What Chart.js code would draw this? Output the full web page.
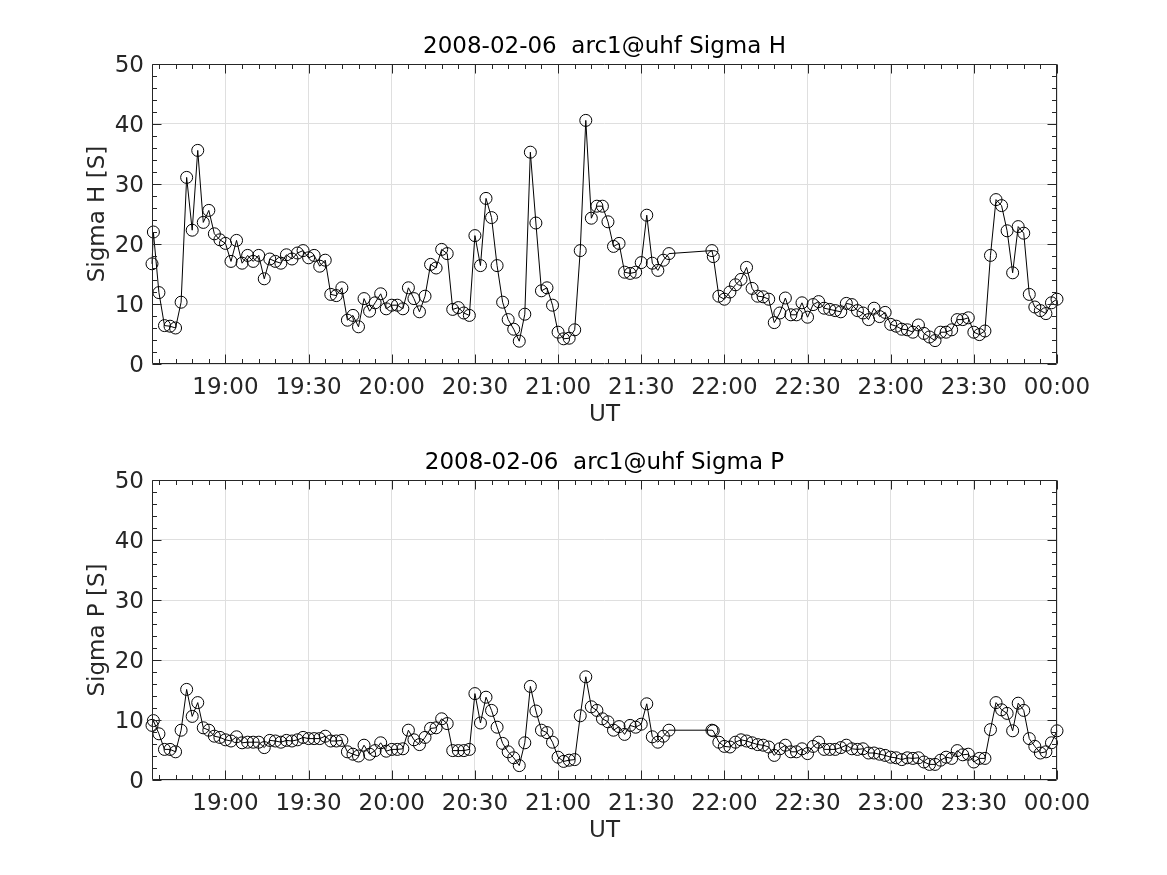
<!DOCTYPE html>
<html>
<head>
<meta charset="utf-8">
<script src="https://cdn.jsdelivr.net/npm/chart.js@4.4.1/dist/chart.umd.min.js"></script>
<style>
  html, body { margin: 0; padding: 0; background: #fff; }
  #wrap { position: relative; width: 1167px; height: 875px; }
  canvas { position: absolute; left: 0; }
</style>
</head>
<body>
<div id="wrap">
  <canvas id="chartH" width="1167" height="437" style="top:0"></canvas>
  <canvas id="chartP" width="1167" height="438" style="top:437px"></canvas>
</div>
<script>
// sample times (UT), 2 min steps, gap 21:40 - 21:55
const times = [
  '18:33:30', '18:34', '18:36', '18:38', '18:40', '18:42', '18:44', '18:46', '18:48', '18:50', '18:52', '18:54', '18:56', '18:58',
  '19:00', '19:02', '19:04', '19:06', '19:08', '19:10', '19:12', '19:14', '19:16', '19:18', '19:20', '19:22', '19:24', '19:26', '19:28',
  '19:30', '19:32', '19:34', '19:36', '19:38', '19:40', '19:42', '19:44', '19:46', '19:48', '19:50', '19:52', '19:54', '19:56', '19:58',
  '20:00', '20:02', '20:04', '20:06', '20:08', '20:10', '20:12', '20:14', '20:16', '20:18', '20:20', '20:22', '20:24', '20:26', '20:28',
  '20:30', '20:32', '20:34', '20:36', '20:38', '20:40', '20:42', '20:44', '20:46', '20:48', '20:50', '20:52', '20:54', '20:56', '20:58',
  '21:00', '21:02', '21:04', '21:06', '21:08', '21:10', '21:12', '21:14', '21:16', '21:18', '21:20', '21:22', '21:24', '21:26', '21:28',
  '21:30', '21:32', '21:34', '21:36', '21:38', '21:40',
  '21:55:30', '21:56', '21:58',
  '22:00', '22:02', '22:04', '22:06', '22:08', '22:10', '22:12', '22:14', '22:16', '22:18', '22:20', '22:22', '22:24', '22:26', '22:28',
  '22:30', '22:32', '22:34', '22:36', '22:38', '22:40', '22:42', '22:44', '22:46', '22:48', '22:50', '22:52', '22:54', '22:56', '22:58',
  '23:00', '23:02', '23:04', '23:06', '23:08', '23:10', '23:12', '23:14', '23:16', '23:18', '23:20', '23:22', '23:24', '23:26', '23:28',
  '23:30', '23:32', '23:34', '23:36', '23:38', '23:40', '23:42', '23:44', '23:46', '23:48', '23:50', '23:52', '23:54', '23:56', '23:58',
  '00:00'
];

const sigmaH = [
  16.7, 22.0, 11.9, 6.4, 6.3, 6.0, 10.3, 31.1, 22.3, 35.6, 23.6, 25.6, 21.7, 20.7,
  20.1, 17.1, 20.6, 16.8, 18.1, 17.1, 18.1, 14.2, 17.5, 17.1, 16.8, 18.2, 17.5, 18.5, 18.9,
  17.7, 18.1, 16.3, 17.3, 11.6, 11.4, 12.7, 7.3, 8.1, 6.2, 10.9, 8.8, 10.2, 11.7, 9.2,
  9.8, 9.8, 9.2, 12.7, 10.9, 8.7, 11.3, 16.6, 16.0, 19.1, 18.4, 9.1, 9.4, 8.5, 8.1,
  21.4, 16.4, 27.6, 24.4, 16.4, 10.3, 7.4, 5.8, 3.8, 8.3, 35.3, 23.5, 12.2, 12.7, 9.8,
  5.3, 4.2, 4.3, 5.7, 18.9, 40.6, 24.3, 26.3, 26.3, 23.7, 19.6, 20.1, 15.3, 15.1, 15.3,
  16.9, 24.8, 16.8, 15.6, 17.3, 18.4,
  18.9, 17.9, 11.3,
  10.8, 12.0, 13.2, 14.1, 16.1, 12.6, 11.3, 11.2, 10.8, 6.9, 8.5, 11.0, 8.2, 8.2, 10.2,
  7.8, 9.9, 10.4, 9.3, 9.1, 8.9, 8.7, 10.1, 9.9, 8.9, 8.5, 7.4, 9.3, 7.9, 8.6,
  6.6, 6.3, 5.8, 5.7, 5.3, 6.5, 5.1, 4.5, 3.9, 5.3, 5.3, 5.7, 7.4, 7.4, 7.7,
  5.3, 4.9, 5.5, 18.1, 27.4, 26.4, 22.2, 15.2, 22.9, 21.8, 11.6, 9.5, 8.9, 8.4, 10.2,
  10.8
];

const sigmaP = [
  9.1, 9.9, 7.7, 5.1, 5.1, 4.7, 8.3, 15.1, 10.6, 12.9, 8.7, 8.3, 7.3, 7.1,
  6.7, 6.5, 7.2, 6.2, 6.3, 6.3, 6.3, 5.4, 6.6, 6.5, 6.3, 6.6, 6.5, 6.7, 7.1,
  6.9, 6.9, 6.9, 7.3, 6.5, 6.5, 6.6, 4.7, 4.3, 4.0, 5.8, 4.3, 4.9, 6.2, 4.8,
  5.1, 5.1, 5.2, 8.3, 6.7, 5.9, 7.1, 8.6, 8.7, 10.2, 9.4, 4.9, 4.9, 4.9, 5.1,
  14.4, 9.5, 13.8, 11.6, 8.8, 6.1, 4.7, 3.7, 2.4, 6.2, 15.6, 11.5, 8.3, 7.9, 6.3,
  3.8, 3.1, 3.3, 3.4, 10.7, 17.2, 12.2, 11.6, 10.2, 9.7, 8.3, 8.9, 7.6, 9.1, 8.8,
  9.3, 12.7, 7.2, 6.3, 7.3, 8.3,
  8.3, 8.2, 6.3,
  5.6, 5.5, 6.3, 6.7, 6.5, 6.2, 5.9, 5.8, 5.5, 4.1, 5.2, 5.8, 4.7, 4.7, 5.2,
  4.4, 5.6, 6.3, 5.1, 5.1, 5.1, 5.4, 5.8, 5.2, 5.1, 5.2, 4.5, 4.5, 4.3, 4.1,
  3.8, 3.7, 3.4, 3.7, 3.6, 3.7, 3.0, 2.6, 2.6, 3.3, 3.8, 3.6, 4.9, 4.2, 4.3,
  3.0, 3.6, 3.6, 8.4, 12.9, 11.7, 11.1, 8.2, 12.8, 11.6, 6.9, 5.6, 4.5, 4.7, 6.2,
  8.2
];

const xTickLabels = ['19:00', '19:30', '20:00', '20:30', '21:00', '21:30', '22:00', '22:30', '23:00', '23:30', '00:00'];
const yTicks = [0, 10, 20, 30, 40, 50];

const FONT = 'DejaVu Sans';
const AXIS_COLOR = '#262626';
const GRID_COLOR = 'rgb(223,223,223)';

// minutes since 18:00, times after midnight go past 24h
function toMin(s) {
  const p = s.split(':').map(Number);
  let h = p[0];
  if (h < 12) h += 24;
  return (h - 18) * 60 + p[1] + (p[2] || 0) / 60;
}

// box round the axes with inward ticks on all four sides (matlab style)
const boxTicks = {
  id: 'boxTicks',
  afterDraw(chart) {
    const { ctx, chartArea: a, scales: { x, y } } = chart;
    const L = Math.round(a.left) + 0.5, R = Math.round(a.right) - 0.5;
    const T = Math.round(a.top) + 0.5, B = Math.round(a.bottom) - 0.5;
    ctx.save();
    ctx.strokeStyle = AXIS_COLOR;
    ctx.lineWidth = 1;
    ctx.beginPath();
    ctx.rect(L, T, R - L, B - T);
    for (let m = 36; m <= 360; m += 6) {
      const px = Math.round(x.getPixelForValue(m)) + 0.5;
      const len = m % 30 === 0 ? 9 : 4.5;
      ctx.moveTo(px, B); ctx.lineTo(px, B - len);
      ctx.moveTo(px, T); ctx.lineTo(px, T + len);
    }
    for (let v = 0; v <= 50; v += 2) {
      const py = Math.round(y.getPixelForValue(v)) + 0.5;
      const len = v % 10 === 0 ? 9 : 4.5;
      ctx.moveTo(L, py); ctx.lineTo(L + len, py);
      ctx.moveTo(R, py); ctx.lineTo(R - len, py);
    }
    ctx.stroke();
    ctx.restore();
  }
};

function makeChart(id, values, titleText, yTitle, lay) {
  const points = times.map((t, i) => ({ x: toMin(t), y: values[i] }));
  return new Chart(document.getElementById(id), {
    type: 'line',
    data: {
      datasets: [{
        data: points,
        borderColor: '#000',
        borderWidth: 1,
        tension: 0,
        pointStyle: 'circle',
        pointRadius: 6,
        pointBorderWidth: 1,
        pointBorderColor: '#000',
        pointBackgroundColor: 'rgba(0,0,0,0)',
        clip: false
      }]
    },
    options: {
      responsive: false,
      animation: false,
      devicePixelRatio: 1,
      layout: { padding: { left: 0, right: 110, top: 0, bottom: 0 } },
      plugins: {
        legend: { display: false },
        tooltip: { enabled: false },
        title: {
          display: true,
          text: titleText,
          fullSize: false,
          color: '#000',
          font: { family: FONT, size: 23, weight: 'normal' },
          padding: { top: lay.titleTop, bottom: lay.titleBottom }
        }
      },
      scales: {
        x: {
          type: 'linear',
          min: toMin(times[0]),
          max: toMin(times[times.length - 1]),
          afterBuildTicks: (s) => { s.ticks = xTickLabels.map(l => ({ value: toMin(l) })); },
          afterFit: (s) => { s.height = lay.xHeight; },
          ticks: {
            autoSkip: false,
            maxRotation: 0,
            padding: 10,
            color: AXIS_COLOR,
            font: { family: FONT, size: 23 },
            callback: (v, i) => xTickLabels[i]
          },
          grid: { color: GRID_COLOR, drawTicks: false },
          border: { display: false },
          title: {
            display: true,
            text: 'UT',
            color: AXIS_COLOR,
            font: { family: FONT, size: 23 },
            padding: { top: 0, bottom: lay.utBottom }
          }
        },
        y: {
          min: 0,
          max: 50,
          afterBuildTicks: (s) => { s.ticks = yTicks.map(v => ({ value: v })); },
          afterFit: (s) => { s.width = 152; },
          ticks: {
            padding: 8,
            labelOffset: 2,
            color: AXIS_COLOR,
            font: { family: FONT, size: 23 }
          },
          grid: { color: GRID_COLOR, drawTicks: false },
          border: { display: false },
          title: {
            display: true,
            text: yTitle,
            color: AXIS_COLOR,
            font: { family: FONT, size: 23 },
            padding: { top: 84, bottom: 0 }
          }
        }
      }
    },
    plugins: [boxTicks]
  });
}

makeChart('chartH', sigmaH, '2008-02-06  arc1@uhf Sigma H', 'Sigma H [S]',
  { titleTop: 33.2, titleBottom: 3.2, xHeight: 73, utBottom: 8.2 });
makeChart('chartP', sigmaP, '2008-02-06  arc1@uhf Sigma P', 'Sigma P [S]',
  { titleTop: 12.2, titleBottom: 3.2, xHeight: 95, utBottom: 30.2 });
</script>
</body>
</html>
